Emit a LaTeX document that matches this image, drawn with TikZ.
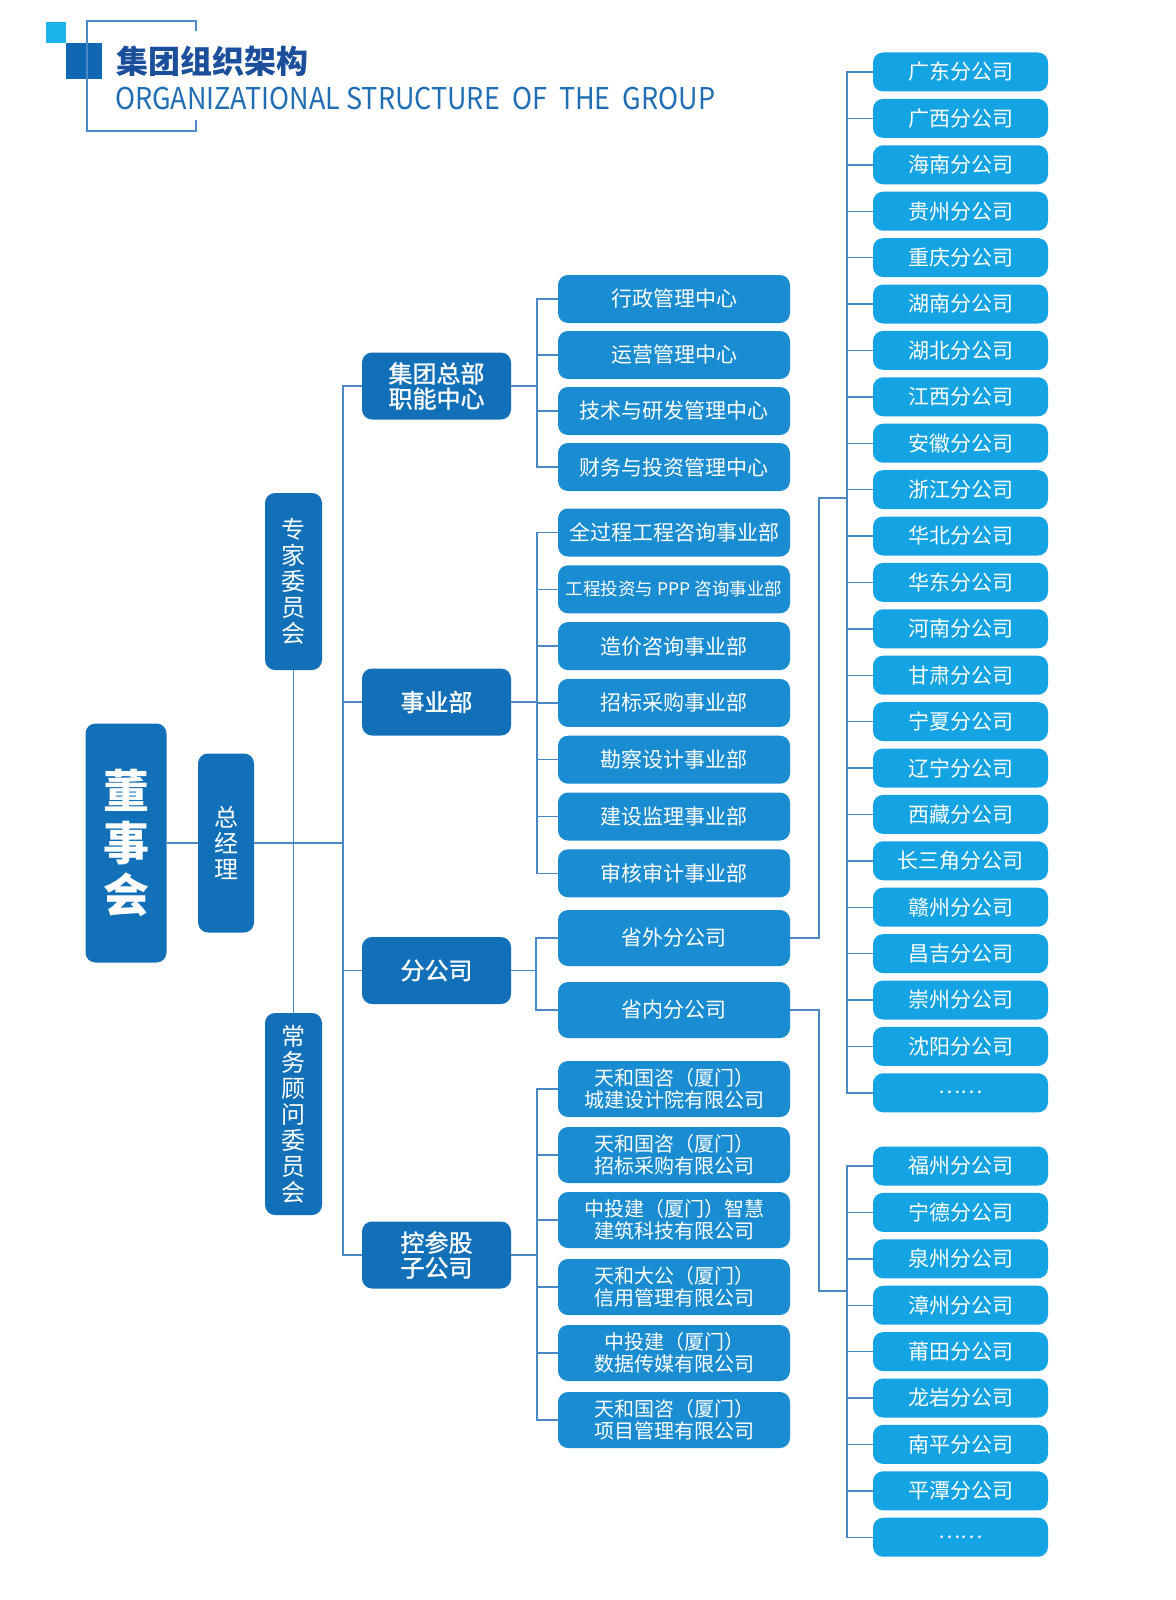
\documentclass[tikz,border=0pt]{standalone}
\usepackage{fontspec}
\setmainfont{Noto Sans CJK SC}
\newfontfamily\levelfont[FakeBold=1.2]{Noto Sans CJK SC}
\usepackage{graphicx}
\definecolor{boxdark}{HTML}{1270B8}
\definecolor{boxmid}{HTML}{1A8CD2}
\definecolor{boxlight}{HTML}{14A3E3}
\definecolor{linkblue}{HTML}{4A88C6}
\definecolor{titlenavy}{HTML}{1B4F9B}
\definecolor{subblue}{HTML}{1F6DB5}
\definecolor{squarecyan}{HTML}{19B4EA}
\definecolor{squareblue}{HTML}{1167B3}
\begin{document}
\begin{tikzpicture}[x=1pt,y=-1pt,
  link/.style={draw=linkblue,line width=1.4pt},
  left node/.style={rounded corners=10pt,fill=boxdark,text=white,inner sep=0pt,align=center},
  level node/.style={rounded corners=10pt,fill=boxdark,text=white,inner sep=0pt,align=center,
    minimum width=149pt,minimum height=67pt,font=\fontsize{24}{25}\selectfont\levelfont},
  mid node/.style={rounded corners=10pt,fill=boxmid,text=white,inner sep=0pt,align=center,
    minimum width=232pt,minimum height=48pt,font=\fontsize{21}{22}\selectfont},
  leaf node/.style={rounded corners=10pt,fill=boxlight,text=white,inner sep=0pt,align=center,
    minimum width=175pt,minimum height=39pt,font=\fontsize{21}{22}\selectfont}]

  \useasboundingbox (0,0) rectangle (1175,1600);

  % header
  \fill[squarecyan] (46,22) rectangle (66,43);
  \fill[squareblue] (66,43) rectangle (102,79);
  \draw[linkblue,line width=1.2pt] (196,31) -- (196,21) -- (87,21) -- (87,131) -- (196,131) -- (196,120);
  \node[anchor=west,inner sep=0pt,text=titlenavy,font=\fontsize{32}{32}\selectfont\bfseries] (title) at (116,61) {集团组织架构};
  \node[anchor=west,inner sep=0pt,text=subblue,font=\fontsize{30}{30}\selectfont] (subtitle) at (115,99)
    {\resizebox{600pt}{\height}{ORGANIZATIONAL STRUCTURE\ \ OF\ \ THE\ \ GROUP}};

  % left side
  \node[left node,minimum width=81pt,minimum height=239pt,font=\fontsize{46}{52}\selectfont\bfseries] (board) at (126,843) {董\\事\\会};
  \node[left node,minimum width=56pt,minimum height=179pt,font=\fontsize{24}{26}\selectfont] (gm) at (226,843) {总\\经\\理};
  \node[left node,minimum width=57pt,minimum height=177pt,font=\fontsize{24}{26}\selectfont] (expert) at (293.5,581.5) {专\\家\\委\\员\\会};
  \node[left node,minimum width=57pt,minimum height=202pt,font=\fontsize{24}{26}\selectfont] (advisory) at (293.5,1114) {常\\务\\顾\\问\\委\\员\\会};
  \coordinate (trunk) at (343,843);

  % second level
  \node[level node] (hq) at (436.5,386) {集团总部\\职能中心};
  \node[level node] (biz) at (436.5,702) {事业部};
  \node[level node] (branch) at (436.5,970.5) {分公司};
  \node[level node] (sub) at (436.5,1255) {控参股\\子公司};

  % third level
  \node[mid node] (m1) at (674,299) {行政管理中心};
  \node[mid node] (m2) at (674,355) {运营管理中心};
  \node[mid node] (m3) at (674,411) {技术与研发管理中心};
  \node[mid node] (m4) at (674,467) {财务与投资管理中心};
  \node[mid node] (d1) at (674,532.5) {全过程工程咨询事业部};
  \node[mid node,font=\fontsize{17.5}{20}\selectfont] (d2) at (674,589.3) {工程投资与 PPP 咨询事业部};
  \node[mid node] (d3) at (674,646.1) {造价咨询事业部};
  \node[mid node] (d4) at (674,702.9) {招标采购事业部};
  \node[mid node] (d5) at (674,759.7) {勘察设计事业部};
  \node[mid node] (d6) at (674,816.5) {建设监理事业部};
  \node[mid node] (d7) at (674,873.3) {审核审计事业部};
  \node[mid node,minimum height=56pt] (sw) at (674,938) {省外分公司};
  \node[mid node,minimum height=56pt] (nw) at (674,1010) {省内分公司};
  \node[mid node,minimum height=56pt,font=\fontsize{20}{22}\selectfont] (c1) at (674,1089) {天和国咨（厦门）\\城建设计院有限公司};
  \node[mid node,minimum height=56pt,font=\fontsize{20}{22}\selectfont] (c2) at (674,1155) {天和国咨（厦门）\\招标采购有限公司};
  \node[mid node,minimum height=56pt,font=\fontsize{20}{22}\selectfont] (c3) at (674,1220) {中投建（厦门）智慧\\建筑科技有限公司};
  \node[mid node,minimum height=56pt,font=\fontsize{20}{22}\selectfont] (c4) at (674,1287) {天和大公（厦门）\\信用管理有限公司};
  \node[mid node,minimum height=56pt,font=\fontsize{20}{22}\selectfont] (c5) at (674,1353) {中投建（厦门）\\数据传媒有限公司};
  \node[mid node,minimum height=56pt,font=\fontsize{20}{22}\selectfont] (c6) at (674,1420) {天和国咨（厦门）\\项目管理有限公司};

  % branches outside the province
  \node[leaf node] (r1) at (960.5,72) {广东分公司};
  \node[leaf node] (r2) at (960.5,118.4) {广西分公司};
  \node[leaf node] (r3) at (960.5,164.8) {海南分公司};
  \node[leaf node] (r4) at (960.5,211.2) {贵州分公司};
  \node[leaf node] (r5) at (960.5,257.6) {重庆分公司};
  \node[leaf node] (r6) at (960.5,304) {湖南分公司};
  \node[leaf node] (r7) at (960.5,350.4) {湖北分公司};
  \node[leaf node] (r8) at (960.5,396.8) {江西分公司};
  \node[leaf node] (r9) at (960.5,443.2) {安徽分公司};
  \node[leaf node] (r10) at (960.5,489.6) {浙江分公司};
  \node[leaf node] (r11) at (960.5,536) {华北分公司};
  \node[leaf node] (r12) at (960.5,582.4) {华东分公司};
  \node[leaf node] (r13) at (960.5,628.8) {河南分公司};
  \node[leaf node] (r14) at (960.5,675.2) {甘肃分公司};
  \node[leaf node] (r15) at (960.5,721.6) {宁夏分公司};
  \node[leaf node] (r16) at (960.5,768) {辽宁分公司};
  \node[leaf node] (r17) at (960.5,814.4) {西藏分公司};
  \node[leaf node] (r18) at (960.5,860.8) {长三角分公司};
  \node[leaf node] (r19) at (960.5,907.2) {赣州分公司};
  \node[leaf node] (r20) at (960.5,953.6) {昌吉分公司};
  \node[leaf node] (r21) at (960.5,1000) {崇州分公司};
  \node[leaf node] (r22) at (960.5,1046.4) {沈阳分公司};
  \node[leaf node] (r23) at (960.5,1092.8) {……};

  % branches inside the province
  \node[leaf node] (f1) at (960.5,1166) {福州分公司};
  \node[leaf node] (f2) at (960.5,1212.4) {宁德分公司};
  \node[leaf node] (f3) at (960.5,1258.8) {泉州分公司};
  \node[leaf node] (f4) at (960.5,1305.2) {漳州分公司};
  \node[leaf node] (f5) at (960.5,1351.6) {莆田分公司};
  \node[leaf node] (f6) at (960.5,1398) {龙岩分公司};
  \node[leaf node] (f7) at (960.5,1444.4) {南平分公司};
  \node[leaf node] (f8) at (960.5,1490.8) {平潭分公司};
  \node[leaf node] (f9) at (960.5,1537.2) {……};

  \coordinate (hqbus) at (537,386);
  \coordinate (bizbus) at (537,702);
  \coordinate (branchbus) at (536,970.5);
  \coordinate (subbus) at (537,1255);
  \coordinate (swturn) at (819,498);
  \coordinate (outbus) at (847,498);
  \coordinate (nwturn) at (819,1291);
  \coordinate (inbus) at (847,1291);

  % connectors
  \path[link]
   (board) edge (gm)
   (gm) edge (trunk)
   (expert) edge (advisory)
   (hq) edge (hqbus)
   (biz) edge (bizbus)
   (branch) edge (branchbus)
   (sub) edge (subbus);
  \foreach \n in {hq,biz,branch,sub} \draw[link] (\n.west) -| (trunk);
  \foreach \n in {m1,m2,m3,m4} \draw[link] (\n.west) -| (hqbus);
  \foreach \n in {d1,d2,d3,d4,d5,d6,d7} \draw[link] (\n.west) -| (bizbus);
  \foreach \n in {sw,nw} \draw[link] (\n.west) -| (branchbus);
  \foreach \n in {c1,c2,c3,c4,c5,c6} \draw[link] (\n.west) -| (subbus);
  \draw[link] (sw.east) -| (swturn) -- (outbus);
  \draw[link] (nw.east) -| (nwturn) -- (inbus);
  \foreach \n in {r1,r2,r3,r4,r5,r6,r7,r8,r9,r10,r11,r12,r13,r14,r15,r16,r17,r18,r19,r20,r21,r22,r23}
    \draw[link] (\n.west) -| (outbus);
  \foreach \n in {f1,f2,f3,f4,f5,f6,f7,f8,f9} \draw[link] (\n.west) -| (inbus);
\end{tikzpicture}
\end{document}
